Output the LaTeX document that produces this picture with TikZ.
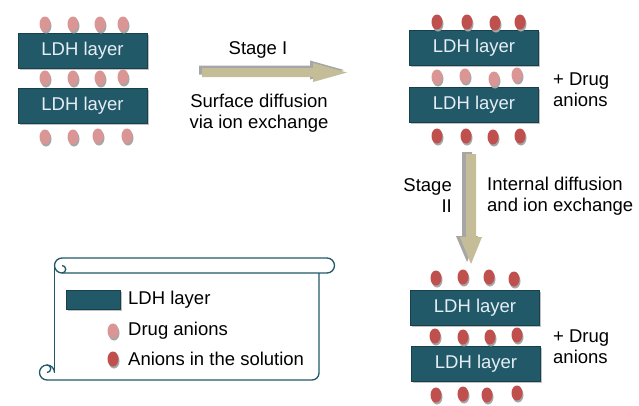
\documentclass[tikz,border=0pt]{standalone}
\usepackage{fontspec}
\setmainfont{Liberation Sans}
\usetikzlibrary{shapes.geometric}
\definecolor{ldh}{HTML}{215968}
\definecolor{ldhborder}{HTML}{17404D}
\definecolor{drug}{HTML}{D99694}
\definecolor{sol}{HTML}{C0504D}
\definecolor{khaki}{HTML}{C4BD97}
\definecolor{shade}{HTML}{A6A6A6}
\definecolor{ldhtext}{HTML}{E6EEF5}
\definecolor{scrollc}{HTML}{215968}
\tikzset{
  txt/.style={font=\fontsize{18.5}{21}\selectfont, text=black, inner sep=0pt},
  layerbase/.style={minimum width=129pt, minimum height=35pt, inner sep=0pt},
  layer/.style={layerbase, draw=ldhborder, fill=ldh, line width=0.8pt, text=ldhtext, font=\fontsize{18.5}{21}\selectfont},
  layersh/.style={layerbase, fill=shade!70},
  ion/.style={ellipse, minimum width=11pt, minimum height=15pt, inner sep=0pt},
  ionsh/.style={ion, fill=shade},
  blockarrow/.style={fill=khaki},
  blockshadow/.style={fill=shade},
  scroll/.style={draw=scrollc, line width=1.3pt, line join=round}
}
\newcommand\ionat[4]{% name, x, y, colour
  \node[ionsh] (#1s) at (#2+1,#3+2) {};
  \node[ion, fill=#4] (#1) at (#2,#3) {};}
\newcommand\layerat[3]{% name, x, y
  \node[layersh] (#1s) at (#2+1.5,#3+1.5) {};
  \node[layer] (#1) at (#2,#3) {LDH layer};}
\begin{document}
\begin{tikzpicture}[x=1pt,y=-1pt]
\useasboundingbox (0,0) rectangle (639,405);
% ---------- panel 1 ----------
\layerat{pa}{82.5}{50.5}
\layerat{pb}{82.5}{105.5}
\ionat{a1}{45}{24}{drug}\ionat{a2}{73}{24}{drug}\ionat{a3}{100}{24}{drug}\ionat{a4}{123}{24}{drug}
\ionat{b1}{45}{78}{drug}\ionat{b2}{73}{78}{drug}\ionat{b3}{100}{78}{drug}\ionat{b4}{123}{77}{drug}
\ionat{c1}{45}{137}{drug}\ionat{c2}{73}{137}{drug}\ionat{c3}{98}{136}{drug}\ionat{c4}{127}{136}{drug}
% ---------- stage I arrow ----------
\fill[blockshadow] (199,65.5) -- (310,65.5) -- (310,60.5) -- (344,70) -- (310,79.5) -- (310,74.5) -- (199,74.5) -- cycle;
\fill[blockarrow] (202,68) -- (313,68) -- (313,63) -- (347,72.5) -- (313,82) -- (313,77) -- (202,77) -- cycle;
\node[txt] (s1) at (258,50) {Stage I};
\node[txt, align=center] (s1d) at (259,113.5) {Surface diffusion\\via ion exchange};
% ---------- panel 2 ----------
\layerat{qa}{474}{47.5}
\layerat{qb}{474}{104.5}
\ionat{d1}{437}{22}{sol}\ionat{d2}{467}{22}{sol}\ionat{d3}{495}{23}{sol}\ionat{d4}{520}{22}{sol}
\ionat{e1}{437}{77}{drug}\ionat{e2}{465}{76}{drug}\ionat{e3}{494}{79}{drug}\ionat{e4}{517}{75}{drug}
\ionat{f1}{437}{136}{sol}\ionat{f2}{466}{136}{sol}\ionat{f3}{493}{137}{sol}\ionat{f4}{520}{136}{sol}
\node[txt, anchor=west, align=left] (q2) at (553,90) {+ Drug\\anions};
% ---------- stage II arrow ----------
\fill[blockshadow] (462,152) -- (472,152) -- (472,236) -- (478,236) -- (467,262) -- (456,236) -- (462,236) -- cycle;
\fill[blockarrow] (466,154) -- (476,154) -- (476,237) -- (482,237) -- (471,264) -- (460,237) -- (466,237) -- cycle;
\node[txt, anchor=east, align=right] (s2) at (452,196) {Stage\\II};
\node[txt, anchor=west, align=left] (s2d) at (487,196) {Internal diffusion\\and ion exchange};
% ---------- panel 3 ----------
\layerat{ra}{475}{308}
\layerat{rb}{476}{364}
\ionat{g1}{436}{278}{sol}\ionat{g2}{463}{277}{sol}\ionat{g3}{489}{277}{sol}\ionat{g4}{514}{279}{sol}
\ionat{h1}{435}{336}{sol}\ionat{h2}{463}{337}{sol}\ionat{h3}{490}{337}{sol}\ionat{h4}{517}{335}{sol}
\ionat{k1}{436}{395}{sol}\ionat{k2}{463}{394}{sol}\ionat{k3}{487}{395}{sol}\ionat{k4}{517}{393}{sol}
\node[txt, anchor=west, align=left] (r2) at (553,346.5) {+ Drug\\anions};
% ---------- legend scroll ----------
\fill[white] (54.5,265.5) rectangle (319,380);
\draw[scroll] (62,258) -- (327,258) arc[start angle=-90, end angle=90, radius=7.5] -- (62,273);
\draw[scroll] (62,258) arc[start angle=-90, end angle=-270, radius=7.5];
\draw[scroll] (62,273) arc[start angle=90, end angle=-90, radius=3.75];
\draw[scroll] (54.5,265.5) -- (54.5,372.5);
\draw[scroll] (319,273) -- (319,373) arc[start angle=0, end angle=90, radius=7] -- (47,380);
\draw[scroll] (47,380) arc[start angle=90, end angle=360, radius=7.5];
\draw[scroll] (47,365) arc[start angle=-90, end angle=90, radius=3.75];
\node[fill=shade!70, minimum width=54pt, minimum height=19pt, inner sep=0pt] (lgs) at (94.5,301) {};
\node[draw=ldhborder, fill=ldh, line width=0.8pt, minimum width=54pt, minimum height=19pt, inner sep=0pt] (lg) at (93,299.5) {};
\node[txt, anchor=west] (lgt) at (128,300) {LDH layer};
\ionat{lgd}{113}{331}{drug}
\node[txt, anchor=west] (lgdt) at (128,331) {Drug anions};
\ionat{lgo}{113}{359}{sol}
\node[txt, anchor=west] (lgot) at (128,359) {Anions in the solution};
\end{tikzpicture}
\end{document}
